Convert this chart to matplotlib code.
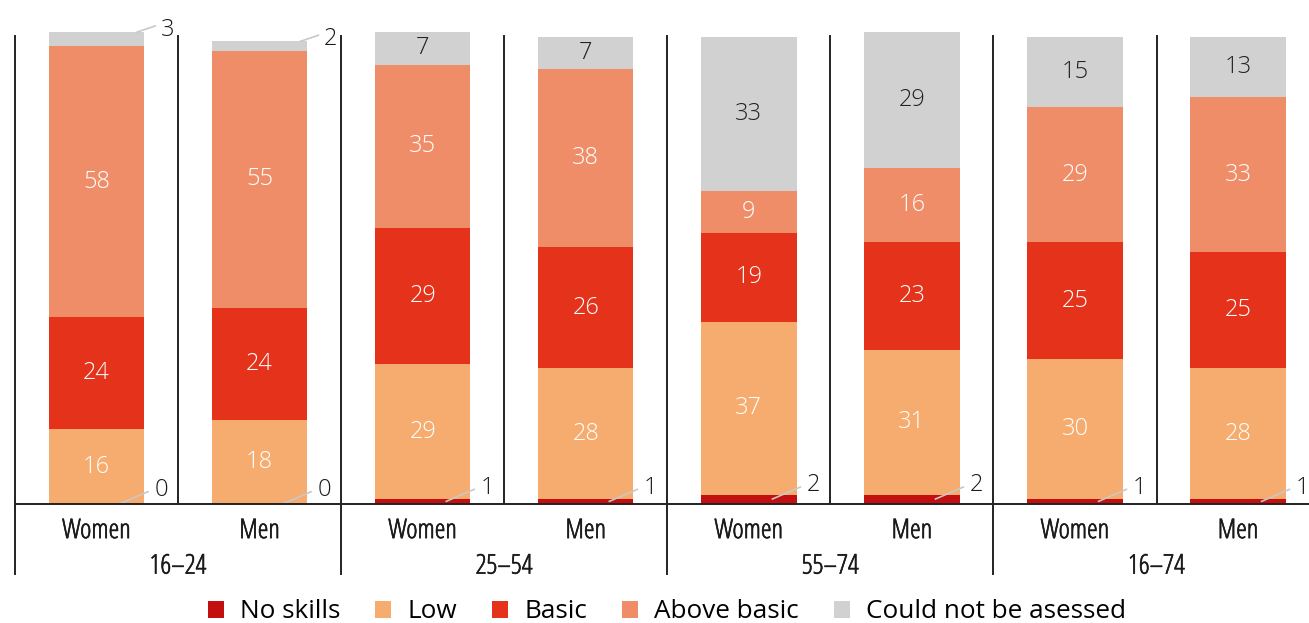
import matplotlib
matplotlib.use("Agg")
import matplotlib.pyplot as plt
import matplotlib.patheffects as pe
from matplotlib import font_manager
from matplotlib.font_manager import FontProperties
from matplotlib.patches import Patch

# ---- data -------------------------------------------------------------
groups = ["16\u201324", "25\u201354", "55\u201374", "16\u201374"]
sexes = ["Women", "Men"]
levels = ["No skills", "Low", "Basic", "Above basic", "Could not be asessed"]

no_skills   = [0, 0, 1, 1, 2, 2, 1, 1]
low         = [16, 18, 29, 28, 37, 31, 30, 28]
basic       = [24, 24, 29, 26, 19, 23, 25, 25]
above_basic = [58, 55, 35, 38, 9, 16, 29, 33]
not_assessed = [3, 2, 7, 7, 33, 29, 15, 13]

series = [no_skills, low, basic, above_basic, not_assessed]
colors = ["#C40F10", "#F5AC6E", "#E5321B", "#F08D69", "#D0D1D0"]
inside_text = [None, "white", "white", "white", "#222222"]

# ---- fonts ------------------------------------------------------------
available = {f.name for f in font_manager.fontManager.ttflist}
main_font = next((n for n in ("Open Sans", "Noto Sans") if n in available),
                 "DejaVu Sans")


def narrow_props(size):
    """A condensed, regular-weight face for the category labels."""
    best = None
    order = ["Open Sans", "Roboto", "Noto Sans", "Liberation Sans", "DejaVu Sans"]
    for f in font_manager.fontManager.ttflist:
        label = (f.name + " " + f.fname).lower()
        narrow = ("condensed" in label or "narrow" in label
                  or str(f.stretch).lower() in ("condensed", "semi-condensed"))
        try:
            wt = int(f.weight)
        except (TypeError, ValueError):
            wt = {"light": 300, "normal": 400, "regular": 400}.get(str(f.weight), 700)
        if not narrow or wt > 500 or f.style != "normal":
            continue
        rank = next((k for k, o in enumerate(order) if o.lower() in label), 9)
        key = (rank, abs(wt - 400))
        if best is None or key < best[0]:
            best = (key, f.fname)
    if best is None:
        return FontProperties(family=main_font, size=size)
    return FontProperties(fname=best[1], size=size)


W, H = 1309, 623
fig = plt.figure(figsize=(W / 100, H / 100), dpi=100)
ax = fig.add_axes([15 / W, (H - 504) / H, 1 - 15 / W, (504 - 32) / H])

n = len(no_skills)
xs = list(range(n))
ax.set_xlim(-0.5, 7.435)
ax.set_ylim(0, 101)
ax.axis("off")

bar_w = 0.585
bottoms = [0] * n
for vals, col, tcol in zip(series, colors, inside_text):
    ax.bar(xs, vals, width=bar_w, bottom=bottoms, color=col, linewidth=0,
           zorder=2)
    for i, v in enumerate(vals):
        mid = bottoms[i] + v / 2
        if tcol is not None and v >= 5:
            ax.text(xs[i], mid, f"{v}", ha="center", va="center",
                    color=tcol, fontsize=17, family=main_font,
                    fontweight="light", zorder=3)
    bottoms = [b + v for b, v in zip(bottoms, vals)]

totals = bottoms
lead_col = "#C8C8C8"
label_col = "#1A1A1A"

# leader labels for the thin bottom segments
for i, v in enumerate(no_skills):
    y0 = v / 2
    ax.plot([xs[i] + 0.14, xs[i] + 0.32], [y0, y0 + 2.7], color=lead_col,
            lw=1.2, zorder=4, solid_capstyle="butt")
    ax.text(xs[i] + 0.355, y0 + 3.0, f"{v}", ha="left", va="center",
            color=label_col, fontsize=17, family=main_font,
            fontweight="light", zorder=4)

# leader labels for thin top segments
for i, v in enumerate(not_assessed):
    if v < 5:
        t = totals[i]
        ax.plot([xs[i] + 0.25, xs[i] + 0.36], [t, t + 1.3], color=lead_col,
                lw=1.2, zorder=4, clip_on=False)
        ax.text(xs[i] + 0.395, t + 0.4, f"{v}", ha="left", va="center",
                color=label_col, fontsize=17, family=main_font,
                fontweight="light", zorder=4, clip_on=False)

# frame lines: baseline, separators within and between age groups
line_col = "#222222"
ax.plot([-0.5, 7.435], [0, 0], color=line_col, lw=1.4, clip_on=False,
        zorder=5)
for k in range(n):
    x = k - 0.5
    if k % 2 == 0:
        ax.plot([x, x], [-15.0, 100.2], color=line_col, lw=1.4,
                clip_on=False, zorder=1)
    else:
        ax.plot([x, x], [0, 100.2], color=line_col, lw=1.4,
                clip_on=False, zorder=1)

# category labels (slightly thickened condensed face)
cat_font = narrow_props(19.5)
thicken = [pe.withStroke(linewidth=0.45, foreground=label_col)]
for i in xs:
    ax.text(i, -5.8, sexes[i % 2], ha="center", va="center",
            fontproperties=cat_font, color=label_col, clip_on=False,
            path_effects=thicken)
for g, name in enumerate(groups):
    ax.text(2 * g + 0.5, -13.4, name, ha="center", va="center",
            fontproperties=cat_font, color=label_col, clip_on=False,
            path_effects=thicken)

# legend
handles = [Patch(facecolor=c, edgecolor="none") for c in colors]
fig.legend(handles, levels, loc="center", bbox_to_anchor=(667 / W, 1 - 612 / H),
           ncol=5, frameon=False, handlelength=0.62, handleheight=0.62,
           handletextpad=0.62, columnspacing=1.33,
           prop={"family": main_font, "size": 18.8})

fig.savefig("out.png", dpi=100)
